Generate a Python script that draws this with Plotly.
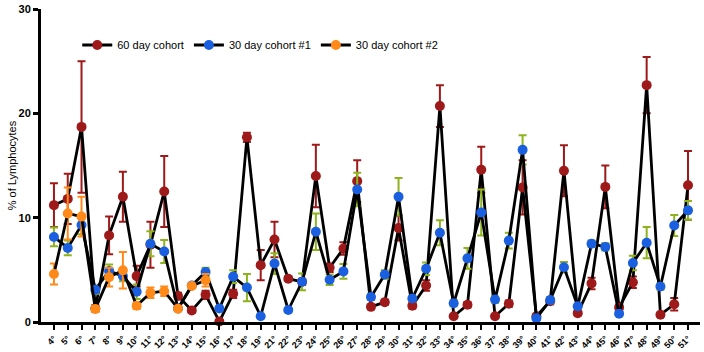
import plotly.graph_objects as go

categories = [f"{n}°" for n in list(range(4, 20)) + list(range(21, 52))]

cohort60 = [11.2, 11.8, 18.7, 1.3, 8.3, 12.0, 4.4, 7.4, 12.5, 2.5, 1.1, 2.6,
            0.05, 2.7, 17.7, 5.45, 7.9, 4.15, 3.85, 14.0, 5.2, 7.05, 13.5, 1.45,
            1.9, 9.0, 1.55, 3.5, 20.7, 0.55, 1.65, 14.6, 0.55, 1.75, 12.9, 0.55,
            2.0, 14.5, 0.85, 3.7, 12.95, 1.4, 3.8, 22.7, 0.7, 1.7, 13.1]
cohort60_err = [2.1, 2.4, 6.3, 0.3, 1.8, 2.4, 1.0, 2.2, 3.4, 0.3, 0.2, 0.4,
                0.1, 0.4, 0.45, 1.45, 1.7, 0.2, 0.3, 3.0, 0.4, 0.6, 2.0, 0.2,
                0.25, 1.2, 0.25, 0.5, 2.0, 0.15, 0.25, 2.2, 0.15, 0.3, 2.6, 0.2,
                0.3, 2.45, 0.2, 0.55, 2.05, 0.25, 0.55, 2.7, 0.15, 0.6, 3.3]

cohort30a = [8.15, 7.1, 9.3, 3.1, 4.9, 4.4, 2.9, 7.5, 6.75, 1.3, 3.5, 4.8,
             1.3, 4.35, 3.3, 0.55, 5.6, 1.15, 3.85, 8.65, 4.05, 4.85, 12.7, 2.4,
             4.55, 12.0, 2.25, 5.1, 8.55, 1.8, 6.1, 10.5, 2.15, 7.8, 16.5, 0.35,
             2.1, 5.25, 1.5, 7.5, 7.2, 0.8, 5.65, 7.6, 3.4, 9.25, 10.7]
cohort30a_err = [0.9, 0.7, 0.9, 0.4, 0.6, 0.5, 0.7, 1.2, 1.1, 0.2, 0.2, 0.4,
                 0.2, 0.6, 1.3, 0.15, 1.0, 0.2, 0.8, 1.75, 0.5, 0.7, 1.6, 0.3,
                 0.4, 1.8, 0.25, 0.6, 1.2, 0.3, 1.0, 2.2, 0.3, 0.75, 1.4, 0.15,
                 0.3, 0.5, 0.2, 0.3, 0.35, 0.15, 0.7, 1.5, 0.3, 1.0, 0.9]

cohort30b = [4.6, 10.4, 10.1, 1.25, 4.3, 4.95, 1.55, 2.8, 2.95, 1.28, 3.45, 4.0]
cohort30b_err = [1.0, 2.5, 1.9, 0.3, 0.9, 1.75, 0.3, 0.5, 0.45, 0.2, 0.2, 0.6]

series_names = ["60 day cohort", "30 day cohort #1", "30 day cohort #2"]

RED = "#9E1A1A"
BLUE = "#1A5FE0"
GREEN = "#8DB31E"
ORANGE = "#FF8A1A"

fig = go.Figure()

def add(name, y, err, mcol, ecol, xs):
    fig.add_trace(go.Scatter(
        x=xs, y=y, name=name, mode="lines+markers",
        line=dict(color="black", width=2.8),
        marker=dict(color=mcol, size=10, line=dict(width=0)),
        error_y=dict(type="data", array=err, visible=True, color=ecol,
                     thickness=2, width=4),
        cliponaxis=False,
    ))

add(series_names[0], cohort60, cohort60_err, RED, RED, categories)
add(series_names[1], cohort30a, cohort30a_err, BLUE, GREEN, categories)
add(series_names[2], cohort30b, cohort30b_err, ORANGE, ORANGE, categories[:len(cohort30b)])

fig.update_layout(
    width=704, height=352,
    margin=dict(l=41, r=4, t=9, b=30, autoexpand=False),
    paper_bgcolor="white", plot_bgcolor="white",
    font=dict(family="Arial, Liberation Sans, sans-serif", color="black", size=11),
    showlegend=True,
    legend=dict(orientation="h", x=0.055, xanchor="left", y=0.885, yanchor="middle",
                font=dict(size=11), bgcolor="rgba(0,0,0,0)", itemwidth=30,
                tracegroupgap=0),
)
fig.update_xaxes(
    type="category", categoryorder="array", categoryarray=categories,
    range=[-0.94, 46.87],
    showline=True, linecolor="black", linewidth=3,
    ticks="outside", ticklen=5, tickwidth=2, tickcolor="black",
    tickangle=-45, tickfont=dict(size=9, weight="bold"),
    showgrid=False, zeroline=False, automargin=False,
)
fig.update_yaxes(
    range=[0, 30], tickvals=[0, 10, 20, 30],
    showline=True, linecolor="black", linewidth=3,
    ticks="outside", ticklen=5, tickwidth=2.5, tickcolor="black",
    tickfont=dict(size=11, weight="bold"), ticklabeloverflow="allow",
    title=dict(text="% of Lymphocytes", font=dict(size=11), standoff=0),
    showgrid=False, zeroline=False, automargin=False,
)

fig.write_html("out.html",
               config={"displayModeBar": False},
               post_script="document.body.style.margin='0';document.body.style.overflow='hidden';")
